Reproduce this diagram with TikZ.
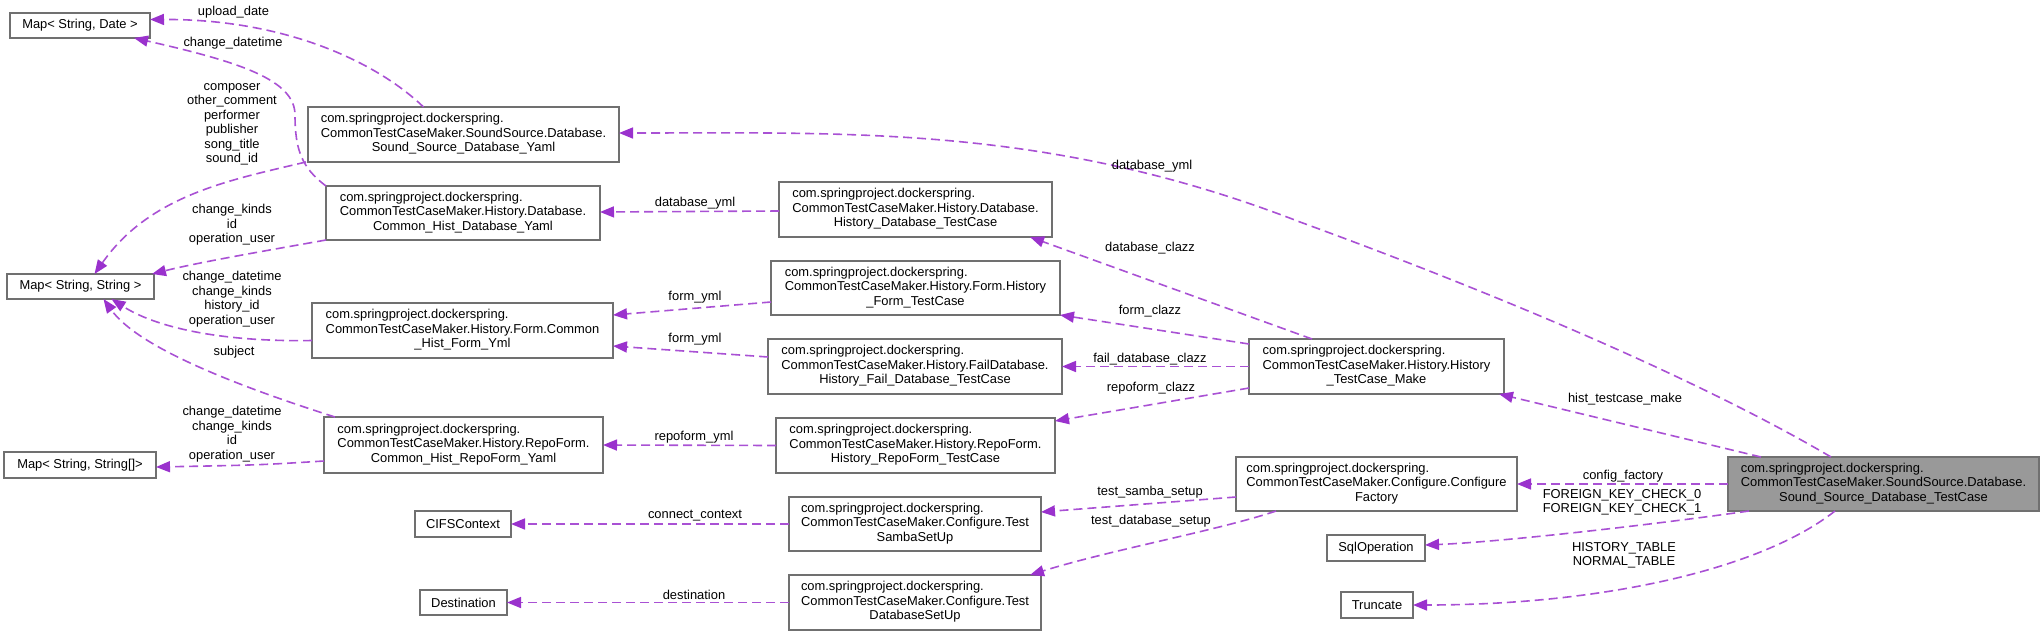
\documentclass[tikz,border=0pt]{standalone}
\usepackage{fontspec}
\setmainfont{Liberation Sans}
\usetikzlibrary{arrows.meta,calc}
\definecolor{edgecol}{HTML}{9A32CD}
\definecolor{boxcol}{HTML}{707070}
\definecolor{mainfill}{HTML}{999999}
\newcommand{\threel}[3]{\begin{tabular}{@{}l@{}}#1\\#2\\\multicolumn{1}{@{}c@{}}{#3}\end{tabular}}
\begin{document}
\begin{tikzpicture}[x=1pt,y=-1pt,
  font={\fontsize{12.9}{14.5}\selectfont},
  box/.style={draw=boxcol,line width=1.3pt,fill=white,inner sep=0pt,outer sep=0pt},
  mainbox/.style={box,fill=mainfill},
  use/.style={draw=edgecol!85!white,line width=1.6pt,dash pattern=on 9pt off 5pt,-{Triangle[length=14pt,width=11pt,color=edgecol,fill=edgecol]}},
  lbl/.style={align=center,inner sep=0pt}]
\useasboundingbox (0,0) rectangle (2044,635);

% nodes
\node[box,minimum width=140pt,minimum height=25pt] (mapdate) at (80,25.5) {Map< String, Date >};
\node[box,minimum width=147pt,minimum height=25pt] (mapstr) at (80.5,286.5) {Map< String, String >};
\node[box,minimum width=152pt,minimum height=26pt] (maparr) at (80,465) {Map< String, String[]>};
\node[box,minimum width=311pt,minimum height=55pt] (ssyaml) at (463.5,134.5) {\threel{com.springproject.dockerspring.}{CommonTestCaseMaker.SoundSource.Database.}{Sound\_Source\_Database\_Yaml}};
\node[box,minimum width=274pt,minimum height=54pt] (chdb) at (463,213) {\threel{com.springproject.dockerspring.}{CommonTestCaseMaker.History.Database.}{Common\_Hist\_Database\_Yaml}};
\node[box,minimum width=301pt,minimum height=55pt] (chform) at (462.5,330.5) {\threel{com.springproject.dockerspring.}{CommonTestCaseMaker.History.Form.Common}{\_Hist\_Form\_Yml}};
\node[box,minimum width=279pt,minimum height=56pt] (chrepo) at (463.5,445) {\threel{com.springproject.dockerspring.}{CommonTestCaseMaker.History.RepoForm.}{Common\_Hist\_RepoForm\_Yaml}};
\node[box,minimum width=96pt,minimum height=26pt] (cifs) at (463,524) {CIFSContext};
\node[box,minimum width=87pt,minimum height=25pt] (dest) at (463.5,602.5) {Destination};
\node[box,minimum width=273pt,minimum height=55pt] (hdbtc) at (915.5,209.5) {\threel{com.springproject.dockerspring.}{CommonTestCaseMaker.History.Database.}{History\_Database\_TestCase}};
\node[box,minimum width=289pt,minimum height=54pt] (hformtc) at (915.5,288) {\threel{com.springproject.dockerspring.}{CommonTestCaseMaker.History.Form.History}{\_Form\_TestCase}};
\node[box,minimum width=294pt,minimum height=55pt] (hfailtc) at (915,366.5) {\threel{com.springproject.dockerspring.}{CommonTestCaseMaker.History.FailDatabase.}{History\_Fail\_Database\_TestCase}};
\node[box,minimum width=279pt,minimum height=55pt] (hrepotc) at (915.5,445.5) {\threel{com.springproject.dockerspring.}{CommonTestCaseMaker.History.RepoForm.}{History\_RepoForm\_TestCase}};
\node[box,minimum width=252pt,minimum height=54pt] (samba) at (915,524) {\threel{com.springproject.dockerspring.}{CommonTestCaseMaker.Configure.Test}{SambaSetUp}};
\node[box,minimum width=252pt,minimum height=55pt] (dbsetup) at (915,602.5) {\threel{com.springproject.dockerspring.}{CommonTestCaseMaker.Configure.Test}{DatabaseSetUp}};
\node[box,minimum width=255pt,minimum height=55pt] (make) at (1376.5,366.5) {\threel{com.springproject.dockerspring.}{CommonTestCaseMaker.History.History}{\_TestCase\_Make}};
\node[box,minimum width=281pt,minimum height=54pt] (factory) at (1376.5,484) {\threel{com.springproject.dockerspring.}{CommonTestCaseMaker.Configure.Configure}{Factory}};
\node[box,minimum width=98pt,minimum height=26pt] (sqlop) at (1376,548) {SqlOperation};
\node[box,minimum width=72pt,minimum height=26pt] (truncate) at (1377,605) {Truncate};
\node[mainbox,minimum width=311pt,minimum height=54pt] (main) at (1883.5,484) {\threel{com.springproject.dockerspring.}{CommonTestCaseMaker.SoundSource.Database.}{Sound\_Source\_Database\_TestCase}};

% edges
\draw[use] ($(ssyaml.north)+(-40,0)$) .. controls (380,65) and (290,19) .. ($(mapdate.east)+(0,-6)$);
\draw[use] (chdb.north west) .. controls (302,168) and (295,150) .. (295,115) .. controls (295,80) and (240,62) .. ($(mapdate.south east)+(-16,0)$);
\draw[use] ($(ssyaml.south west)+(-2,0)$) .. controls (230,180) and (150,195) .. ($(mapstr.north)+(14,0)$);
\draw[use] (chdb.south west) .. controls (270,250) and (200,262) .. ($(mapstr.north east)+(-2,0)$);
\draw[use] ($(chform.west)+(0,10)$) .. controls (230,342) and (160,330) .. ($(mapstr.south)+(31,0)$);
\draw[use] ($(chrepo.north west)+(11,0)$) .. controls (250,390) and (140,350) .. ($(mapstr.south)+(23,0)$);
\draw[use] ($(chrepo.west)+(0,16)$) .. controls (260,465) .. ($(maparr.east)+(0,2)$);
\draw[use] ($(hdbtc.west)+(0,1.5)$) -- ($(chdb.east)+(0,-1)$);
\draw[use] ($(hformtc.west)+(0,14)$) -- ($(chform.east)+(0,-15.5)$);
\draw[use] ($(hfailtc.west)+(0,-9.5)$) -- ($(chform.east)+(0,15.5)$);
\draw[use] (hrepotc.west) -- (chrepo.east);
\draw[use] (samba.west) -- (cifs.east);
\draw[use] (dbsetup.west) -- (dest.east);
\draw[use] ($(make.north)+(-64.5,0)$) -- ($(hdbtc.south east)+(-22,0)$);
\draw[use] ($(make.west)+(0,-22.5)$) -- (hformtc.south east);
\draw[use] (make.west) -- (hfailtc.east);
\draw[use] ($(make.west)+(0,21.5)$) -- ($(hrepotc.north east)+(0,3)$);
\draw[use] ($(factory.west)+(0,13)$) -- ($(samba.east)+(0,-12)$);
\draw[use] ($(factory.south west)+(40,0)$) .. controls (1220,530) and (1110,550) .. ($(dbsetup.north east)+(-11,0)$);
\draw[use] ($(main.north)+(-52.5,0)$) .. controls (1700,380) and (1500,295) .. (1300,222) .. controls (1050,125) and (850,133) .. ($(ssyaml.east)+(0,-1.5)$);
\draw[use] ($(main.north west)+(33,0)$) -- ($(make.south east)+(-5,0)$);
\draw[use] (main.west) -- (factory.east);
\draw[use] ($(main.south west)+(21,0)$) .. controls (1650,525) and (1500,542) .. ($(sqlop.east)+(0,-3)$);
\draw[use] ($(main.south)+(-48.5,0)$) .. controls (1760,570) and (1600,605) .. (truncate.east);

% labels
\node[lbl] (l1) at (233.5,12) {upload\_date};
\node[lbl] (l2) at (233,43) {change\_datetime};
\node[lbl] (l3) at (232,124.5) {composer\\other\_comment\\performer\\publisher\\song\_title\\sound\_id};
\node[lbl] (l4) at (232,225) {change\_kinds\\id\\operation\_user};
\node[lbl] (l5) at (232,299) {change\_datetime\\change\_kinds\\history\_id\\operation\_user};
\node[lbl] (l6) at (234,352) {subject};
\node[lbl] (l7) at (232,434) {change\_datetime\\change\_kinds\\id\\operation\_user};
\node[lbl] (l8) at (695,203) {database\_yml};
\node[lbl] (l9) at (695,297) {form\_yml};
\node[lbl] (l10) at (695,339) {form\_yml};
\node[lbl] (l11) at (694,437) {repoform\_yml};
\node[lbl] (l12) at (695,516) {connect\_context};
\node[lbl] (l13) at (694,595) {destination};
\node[lbl] (l14) at (1152,166) {database\_yml};
\node[lbl] (l15) at (1150,248) {database\_clazz};
\node[lbl] (l16) at (1150,311) {form\_clazz};
\node[lbl] (l17) at (1150,359) {fail\_database\_clazz};
\node[lbl] (l18) at (1151,388) {repoform\_clazz};
\node[lbl] (l19) at (1150,492) {test\_samba\_setup};
\node[lbl] (l20) at (1151,521) {test\_database\_setup};
\node[lbl] (l21) at (1625,399) {hist\_testcase\_make};
\node[lbl] (l22) at (1623,476) {config\_factory};
\node[lbl] (l23) at (1622,502.5) {FOREIGN\_KEY\_CHECK\_0\\FOREIGN\_KEY\_CHECK\_1};
\node[lbl] (l24) at (1624,555.5) {HISTORY\_TABLE\\NORMAL\_TABLE};
\end{tikzpicture}
\end{document}
